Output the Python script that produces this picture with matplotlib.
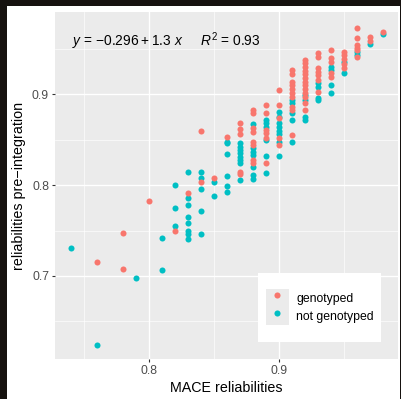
import matplotlib
matplotlib.use("Agg")
import matplotlib.pyplot as plt
from matplotlib.patches import Rectangle
from matplotlib.lines import Line2D
from matplotlib.legend_handler import HandlerTuple

plt.rcParams['font.family'] = ['Liberation Sans', 'DejaVu Sans']
plt.rcParams['mathtext.fontset'] = 'custom'
plt.rcParams['mathtext.rm'] = 'Liberation Sans'
plt.rcParams['mathtext.it'] = 'Liberation Sans:italic'

# ---- data ----
geno_x = ([0.76] + [0.78] * 2 + [0.80] + [0.82] + [0.83] + [0.84] * 2 + [0.85] + [0.86]
          + [0.87] * 5 + [0.88] * 8 + [0.89] * 6 + [0.90] * 5 + [0.91] * 10
          + [0.92] * 13 + [0.93] * 7 + [0.94] * 5 + [0.95] * 5 + [0.96] * 6
          + [0.97] * 2 + [0.98])
geno_y = ([0.715]
          + [0.747, 0.708]
          + [0.782]
          + [0.750]
          + [0.791]
          + [0.860, 0.804]
          + [0.808]
          + [0.853]
          + [0.868, 0.862, 0.856, 0.815, 0.812]
          + [0.883, 0.879, 0.863, 0.859, 0.848, 0.844, 0.828, 0.824]
          + [0.888, 0.879, 0.861, 0.857, 0.852, 0.824]
          + [0.905, 0.888, 0.874, 0.852, 0.844]
          + [0.927, 0.922, 0.914, 0.910, 0.906, 0.902, 0.897, 0.886, 0.883, 0.855]
          + [0.938, 0.934, 0.930, 0.926, 0.922, 0.918, 0.914, 0.910, 0.906, 0.902, 0.897, 0.890, 0.883]
          + [0.945, 0.941, 0.929, 0.925, 0.921, 0.916, 0.903]
          + [0.949, 0.940, 0.936, 0.923, 0.919]
          + [0.947, 0.943, 0.939, 0.933, 0.929]
          + [0.973, 0.962, 0.954, 0.951, 0.949, 0.941]
          + [0.963, 0.959]
          + [0.969])

notg_x = ([0.74] + [0.76] + [0.79] + [0.81] * 2 + [0.82] * 3 + [0.83] * 8 + [0.84] * 5
          + [0.85] * 2 + [0.86] * 6 + [0.87] * 8 + [0.88] * 7 + [0.89] * 6 + [0.90] * 8
          + [0.91] * 5 + [0.92] * 4 + [0.93] * 4 + [0.94] * 4 + [0.95] * 2 + [0.96] * 2
          + [0.97] + [0.98])
notg_y = ([0.731]
          + [0.624]
          + [0.698]
          + [0.742, 0.706]
          + [0.800, 0.775, 0.755]
          + [0.815, 0.786, 0.778, 0.765, 0.758, 0.750, 0.746, 0.741]
          + [0.815, 0.808, 0.796, 0.771, 0.746]
          + [0.804, 0.788]
          + [0.847, 0.846, 0.834, 0.810, 0.799, 0.792]
          + [0.846, 0.842, 0.839, 0.835, 0.831, 0.828, 0.824, 0.806]
          + [0.867, 0.841, 0.837, 0.833, 0.820, 0.811, 0.807]
          + [0.872, 0.868, 0.864, 0.850, 0.832, 0.813]
          + [0.881, 0.875, 0.868, 0.864, 0.860, 0.856, 0.848, 0.832]
          + [0.894, 0.890, 0.879, 0.872, 0.847]
          + [0.899, 0.894, 0.875, 0.872]
          + [0.912, 0.908, 0.896, 0.894]
          + [0.930, 0.927, 0.910, 0.902]
          + [0.936, 0.923]
          + [0.947, 0.943]
          + [0.955]
          + [0.966])

labels = ["genotyped", "not genotyped"]
colors = ["#F8766D", "#00BFC4"]
equation = ("$y$ = \u22120.296\u2009+\u20091.3 $x$     $R^2$ = 0.93")
x_ticks = [0.8, 0.9]
y_ticks = [0.7, 0.8, 0.9]

# ---- figure ----
W, H = 402, 399
fig = plt.figure(figsize=(W / 100, H / 100), dpi=100)
fig.patch.set_facecolor("#16120f")
fig.add_artist(Rectangle((7 / W, 0), (400 - 7) / W, (H - 6) / H,
                         transform=fig.transFigure, facecolor="white",
                         edgecolor="none", zorder=-10))

L, R, T, B = 55, 398, 12, 359
ax = fig.add_axes([L / W, 1 - B / H, (R - L) / W, (B - T) / H])
ax.set_facecolor("#EBEBEB")
for s in ax.spines.values():
    s.set_visible(False)

ax.set_xlim(0.7277, 0.9915)
ax.set_ylim(0.6085, 0.9907)
ax.set_xticks(x_ticks)
ax.set_yticks(y_ticks)
ax.set_xticks([0.75, 0.85, 0.95], minor=True)
ax.set_yticks([0.65, 0.75, 0.85, 0.95], minor=True)
ax.grid(which="major", color="white", linewidth=0.95)
ax.grid(which="minor", color="white", linewidth=0.45)
ax.set_axisbelow(True)
ax.tick_params(which="major", length=2.3, width=0.8, color="#333333",
               labelsize=8.8, labelcolor="#4D4D4D", pad=2)
ax.tick_params(which="minor", length=0)
ax.set_xticklabels([f"{v:.1f}" for v in x_ticks])
ax.set_yticklabels([f"{v:.1f}" for v in y_ticks])

ms = 19
ax.scatter(notg_x, notg_y, s=ms, color=colors[1], linewidths=0, zorder=3)
ax.scatter(geno_x, geno_y, s=ms, color=colors[0], linewidths=0, zorder=3)

ax.set_xlabel("MACE reliabilities", fontsize=10.3, labelpad=3)
ax.set_ylabel("reliabilities pre\u2212integration", fontsize=10.3, labelpad=4)

fig.text(72 / W, 1 - 41 / H, equation, fontsize=9.9, ha="left", va="center")

# legend
ax.add_patch(Rectangle((258 / W, 1 - 342 / H), (381 - 258) / W, (342 - 273) / H,
                       transform=fig.transFigure, facecolor="white",
                       edgecolor="none", zorder=4, clip_on=False))
handles = []
for c in colors:
    bg = Rectangle((0, 0), 1, 1, facecolor="#EBEBEB", edgecolor="none")
    mk = Line2D([], [], marker="o", linestyle="none", markersize=4.4,
                markerfacecolor=c, markeredgewidth=0)
    handles.append((bg, mk))
fs = 8.8
px_per_em = fs * 100 / 72
leg = ax.legend(handles, labels, handler_map={tuple: HandlerTuple(ndivide=1, pad=0)},
                loc="upper left", bbox_to_anchor=(266 / W, 1 - 289 / H),
                bbox_transform=fig.transFigure, frameon=False, fontsize=fs,
                borderpad=0, borderaxespad=0, labelspacing=0,
                handlelength=23 / px_per_em, handleheight=23 / px_per_em,
                handletextpad=7.5 / px_per_em)
leg.set_zorder(5)

fig.savefig("out.png", dpi=100, facecolor=fig.get_facecolor())
